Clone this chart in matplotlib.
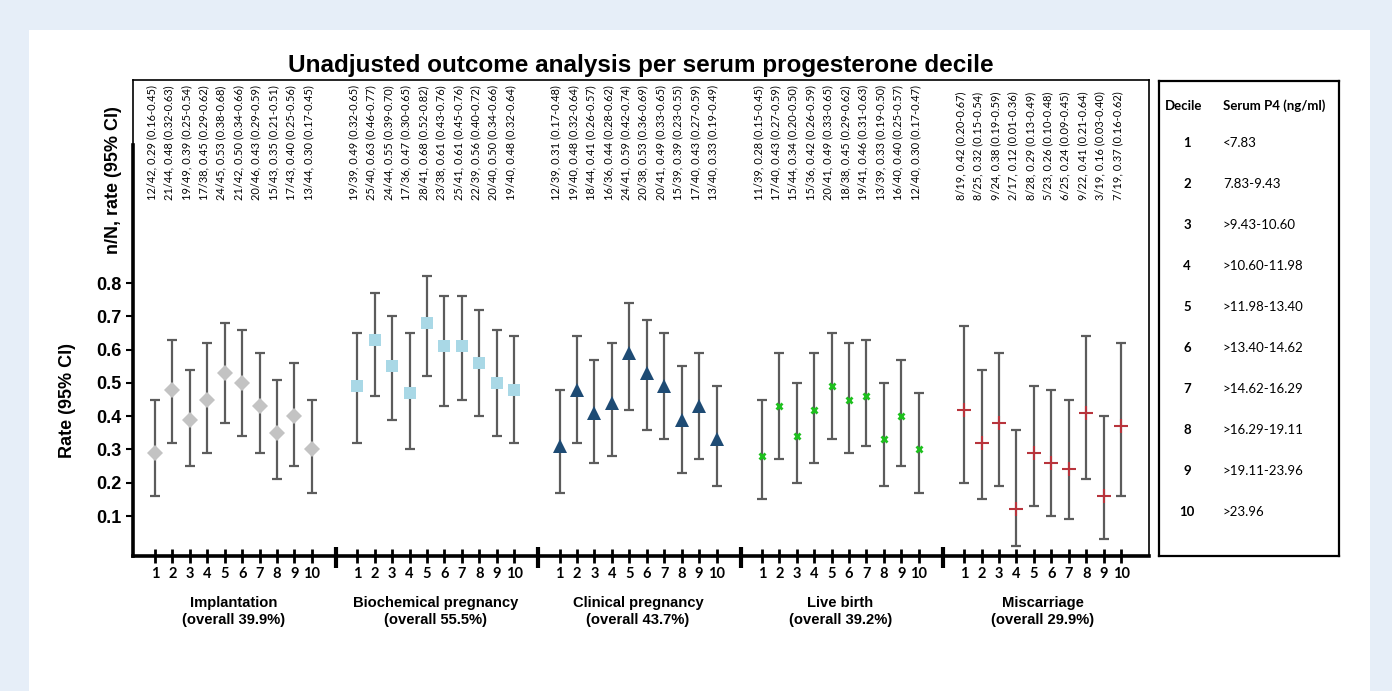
import matplotlib
matplotlib.use("Agg")
import matplotlib.pyplot as plt
from matplotlib.patches import Rectangle

# ---- data ----
outcomes = ["Implantation", "Biochemical pregnancy", "Clinical pregnancy", "Live birth", "Miscarriage"]
overall = ["39.9%", "55.5%", "43.7%", "39.2%", "29.9%"]
deciles = [1, 2, 3, 4, 5, 6, 7, 8, 9, 10]

impl_n = [12, 21, 19, 17, 24, 21, 20, 15, 17, 13]
impl_N = [42, 44, 49, 38, 45, 42, 46, 43, 43, 44]
impl_rate = [0.29, 0.48, 0.39, 0.45, 0.53, 0.50, 0.43, 0.35, 0.40, 0.30]
impl_lo = [0.16, 0.32, 0.25, 0.29, 0.38, 0.34, 0.29, 0.21, 0.25, 0.17]
impl_hi = [0.45, 0.63, 0.54, 0.62, 0.68, 0.66, 0.59, 0.51, 0.56, 0.45]

bio_n = [19, 25, 24, 17, 28, 23, 25, 22, 20, 19]
bio_N = [39, 40, 44, 36, 41, 38, 41, 39, 40, 40]
bio_rate = [0.49, 0.63, 0.55, 0.47, 0.68, 0.61, 0.61, 0.56, 0.50, 0.48]
bio_lo = [0.32, 0.46, 0.39, 0.30, 0.52, 0.43, 0.45, 0.40, 0.34, 0.32]
bio_hi = [0.65, 0.77, 0.70, 0.65, 0.82, 0.76, 0.76, 0.72, 0.66, 0.64]

clin_n = [12, 19, 18, 16, 24, 20, 20, 15, 17, 13]
clin_N = [39, 40, 44, 36, 41, 38, 41, 39, 40, 40]
clin_rate = [0.31, 0.48, 0.41, 0.44, 0.59, 0.53, 0.49, 0.39, 0.43, 0.33]
clin_lo = [0.17, 0.32, 0.26, 0.28, 0.42, 0.36, 0.33, 0.23, 0.27, 0.19]
clin_hi = [0.48, 0.64, 0.57, 0.62, 0.74, 0.69, 0.65, 0.55, 0.59, 0.49]

live_n = [11, 17, 15, 15, 20, 18, 19, 13, 16, 12]
live_N = [39, 40, 44, 36, 41, 38, 41, 39, 40, 40]
live_rate = [0.28, 0.43, 0.34, 0.42, 0.49, 0.45, 0.46, 0.33, 0.40, 0.30]
live_lo = [0.15, 0.27, 0.20, 0.26, 0.33, 0.29, 0.31, 0.19, 0.25, 0.17]
live_hi = [0.45, 0.59, 0.50, 0.59, 0.65, 0.62, 0.63, 0.50, 0.57, 0.47]

misc_n = [8, 8, 9, 2, 8, 5, 6, 9, 3, 7]
misc_N = [19, 25, 24, 17, 28, 23, 25, 22, 19, 19]
misc_rate = [0.42, 0.32, 0.38, 0.12, 0.29, 0.26, 0.24, 0.41, 0.16, 0.37]
misc_lo = [0.20, 0.15, 0.19, 0.01, 0.13, 0.10, 0.09, 0.21, 0.03, 0.16]
misc_hi = [0.67, 0.54, 0.59, 0.36, 0.49, 0.48, 0.45, 0.64, 0.40, 0.62]

p4_ranges = ["<7.83", "7.83-9.43", ">9.43-10.60", ">10.60-11.98", ">11.98-13.40",
             ">13.40-14.62", ">14.62-16.29", ">16.29-19.11", ">19.11-23.96", ">23.96"]

series = [
    (impl_n, impl_N, impl_rate, impl_lo, impl_hi),
    (bio_n, bio_N, bio_rate, bio_lo, bio_hi),
    (clin_n, clin_N, clin_rate, clin_lo, clin_hi),
    (live_n, live_N, live_rate, live_lo, live_hi),
    (misc_n, misc_N, misc_rate, misc_lo, misc_hi),
]
styles = [
    dict(marker="D", color="#c3c3c3", ms=8.5, mew=0),
    dict(marker="s", color="#a9d8e6", ms=9, mew=0),
    dict(marker="^", color="#1e4b74", ms=10, mew=0),
    dict(marker="x", color="#1ec01e", ms=4, mew=2),
    dict(marker="+", color="#b8343c", ms=10, mew=1.5),
]

ARIAL = "Liberation Sans"
CALIBRI = "Lato"
pitch = 11.6

fig = plt.figure(figsize=(13.92, 6.91), dpi=100)
fig.patch.set_facecolor("#e6eef8")
fig.patches.append(Rectangle((29 / 1392, 0), (1370 - 29) / 1392, 1 - 30 / 691,
                             transform=fig.transFigure, facecolor="white",
                             edgecolor="none", zorder=-10))

ax = fig.add_axes([133 / 1392, 1 - 556 / 691, (1149 - 133) / 1392, (556 - 80) / 691])
ax.set_xlim(-1.26, 4 * pitch + 9 + 1.6)
ax.set_ylim(-0.02, 1.41)

tick_pos = []
for g, (n, N, rate, lo, hi) in enumerate(series):
    xs = [g * pitch + d - 1 for d in deciles]
    tick_pos += xs
    yerr = [[r - l for r, l in zip(rate, lo)], [h - r for r, h in zip(rate, hi)]]
    ax.errorbar(xs, rate, yerr=yerr, fmt="none", ecolor="#5c5c5c", elinewidth=1.6,
                capsize=3.8, capthick=1.6, zorder=2)
    ax.plot(xs, rate, linestyle="none", zorder=3, **styles[g])
    for x, a, b, r, l, h in zip(xs, n, N, rate, lo, hi):
        ax.text(x - 0.2, 1.05, f"{a}/{b}, {r:.2f} ({l:.2f}-{h:.2f})", rotation=90,
                ha="center", va="bottom", fontsize=7.9, family=CALIBRI)
    mid = g * pitch + 4.5
    ax.text(mid, -0.161, outcomes[g], ha="center", va="center", fontsize=10.6,
            fontweight="bold", family=ARIAL)
    ax.text(mid, -0.212, f"(overall {overall[g]})", ha="center", va="center",
            fontsize=10.6, fontweight="bold", family=ARIAL)
    if g > 0:
        sx = g * pitch - 1.22
        ax.plot([sx, sx], [0.008, -0.057], color="black", lw=3,
                clip_on=False, solid_capstyle="butt")

ax.set_xticks(tick_pos)
ax.set_xticklabels([str(d) for d in deciles] * 5, fontweight="bold", family=CALIBRI,
                   fontsize=10.5)
ax.tick_params(axis="x", direction="inout", length=10, width=2, pad=3)

ax.set_yticks([0.1, 0.2, 0.3, 0.4, 0.5, 0.6, 0.7, 0.8])
ax.set_yticklabels([f"{v:.1f}" for v in ax.get_yticks()], fontweight="bold",
                   family=ARIAL, fontsize=13)
ax.tick_params(axis="y", direction="out", length=5, width=1.5, pad=3)

for s in ["top", "right"]:
    ax.spines[s].set_linewidth(1.2)
ax.spines["bottom"].set_linewidth(2.6)
ax.spines["left"].set_linewidth(2.6)
ax.spines["left"].set_bounds(-0.02, 1.215)
ax.plot([-1.26, -1.26], [1.215, 1.41], color="black", lw=1.2, clip_on=False)

ax.set_title("Unadjusted outcome analysis per serum progesterone decile",
             fontsize=17.5, fontweight="bold", family=ARIAL, pad=6)
fig.text(68 / 1392, 1 - 400 / 691, "Rate (95% CI)", rotation=90, ha="center",
         va="center", fontsize=13, fontweight="bold", family=ARIAL)
fig.text(114 / 1392, 1 - 180 / 691, "n/N, rate (95% CI)", rotation=90, ha="center",
         va="center", fontsize=13, fontweight="bold", family=ARIAL)

# decile legend table
lg = fig.add_axes([1159 / 1392, 1 - 556 / 691, 180 / 1392, 475 / 691])
lg.set_xlim(0, 180)
lg.set_ylim(475, 0)
lg.set_xticks([])
lg.set_yticks([])
for s in lg.spines.values():
    s.set_linewidth(1.6)
lg.text(25, 25, "Decile", ha="center", va="center", fontsize=9.5,
        fontweight="bold", family=CALIBRI)
lg.text(64, 25, "Serum P4 (ng/ml)", ha="left", va="center", fontsize=9.5,
        fontweight="bold", family=CALIBRI)
for i, (d, r) in enumerate(zip(deciles, p4_ranges)):
    y = 62 + i * 41
    lg.text(28, y, str(d), ha="center", va="center", fontsize=9.5,
            fontweight="bold", family=CALIBRI)
    lg.text(64, y, r, ha="left", va="center", fontsize=9.5, family=CALIBRI)

fig.savefig("out.png", dpi=100, facecolor=fig.get_facecolor())
